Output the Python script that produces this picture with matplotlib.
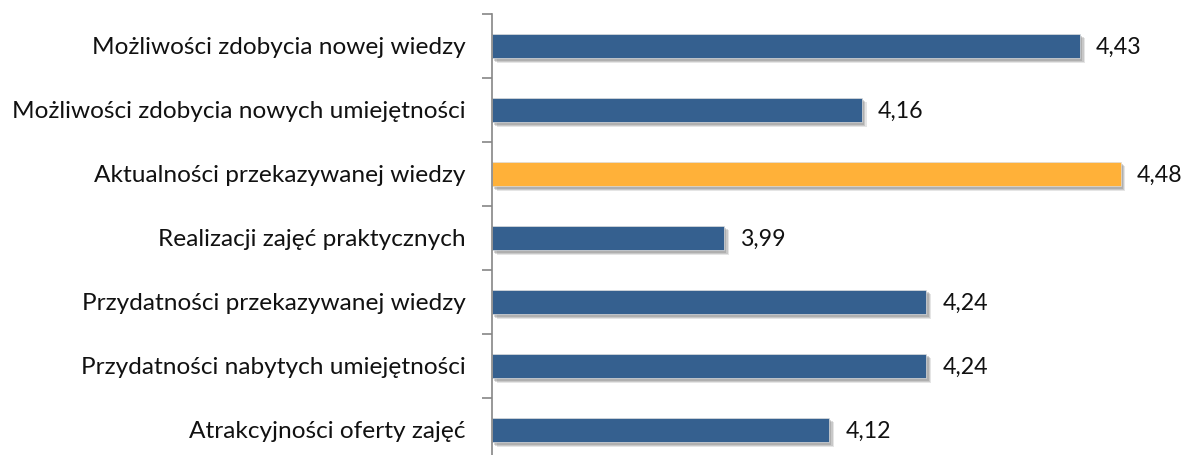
import matplotlib
matplotlib.use("Agg")
import matplotlib.pyplot as plt
import matplotlib.patheffects as pe

categories = [
    "Możliwości zdobycia nowej wiedzy",
    "Możliwości zdobycia nowych umiejętności",
    "Aktualności przekazywanej wiedzy",
    "Realizacji zajęć praktycznych",
    "Przydatności przekazywanej wiedzy",
    "Przydatności nabytych umiejętności",
    "Atrakcyjności oferty zajęć",
]
values = [4.43, 4.16, 4.48, 3.99, 4.24, 4.24, 4.12]
highlight = [False, False, True, False, False, False, False]
value_labels = ["4,43", "4,16", "4,48", "3,99", "4,24", "4,24", "4,12"]

BLUE = "#35608F"
ORANGE = "#FFB139"
XMIN = 3.703

plt.rcParams['font.family'] = ['Lato', 'DejaVu Sans']

fig = plt.figure(figsize=(11.91, 4.55), dpi=100)
ax = fig.add_axes([492/1191, -7/455, 699/1191, 448/455])

ys = list(range(len(categories)))
colors = [ORANGE if h else BLUE for h in highlight]
bars = ax.barh(ys, [v - XMIN for v in values], left=XMIN, height=0.39,
               color=colors, edgecolor="#DDDDDD", linewidth=0.5)
for b in bars:
    b.set_path_effects([
        pe.SimplePatchShadow(offset=(3.5, -3.5), shadow_rgbFace="#999999", alpha=0.25),
        pe.SimplePatchShadow(offset=(2.5, -2.5), shadow_rgbFace="#888888", alpha=0.3),
        pe.SimplePatchShadow(offset=(1.5, -1.5), shadow_rgbFace="#777777", alpha=0.3),
        pe.Normal()])

for y, v, lab in zip(ys, values, value_labels):
    ax.annotate(lab, xy=(v, y), xytext=(11.5, -1), textcoords="offset points",
                ha="left", va="center", fontsize=16.7, color="#111111")

ax.set_xlim(XMIN, XMIN + 699/809)
ax.set_ylim(len(categories) - 0.5, -0.5)
ax.set_yticks(ys)
ax.set_yticklabels(categories, fontsize=17.6, color="#111111")
ax.set_yticks([y + 0.5 for y in range(-1, len(categories))], minor=True)
ax.tick_params(axis="y", which="major", length=0, pad=19)
ax.tick_params(axis="y", which="minor", length=7, color="#868686", width=1.2)
ax.set_xticks([])
for s in ["top", "right", "bottom"]:
    ax.spines[s].set_visible(False)
ax.spines["left"].set_color("#868686")
ax.spines["left"].set_linewidth(1.2)

fig.savefig("out.png", dpi=100)
